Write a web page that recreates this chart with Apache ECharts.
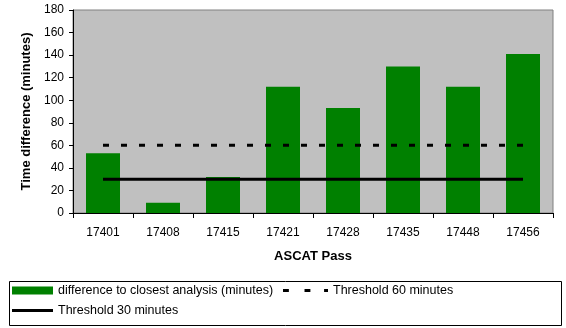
<!DOCTYPE html>
<html>
<head>
<meta charset="utf-8">
<script src="https://cdn.jsdelivr.net/npm/echarts@6/dist/echarts.min.js"></script>
<style>
  html, body { margin: 0; padding: 0; background: #ffffff; }
  #chart { width: 566px; height: 328px; }
</style>
</head>
<body>
<div id="chart"></div>
<script>
// ASCAT passes and their time difference to the closest analysis
const passes = ['17401', '17408', '17415', '17421', '17428', '17435', '17448', '17456'];
const diffMinutes = [53, 9, 32, 112, 93, 130, 112, 141];
const threshold60 = [60, 60, 60, 60, 60, 60, 60, 60];
const threshold30 = [30, 30, 30, 30, 30, 30, 30, 30];
const yTicks = { min: 0, max: 180, step: 20 };

const FONT = 'Arial, "Liberation Sans", sans-serif';
const chart = echarts.init(document.getElementById('chart'), null, { renderer: 'canvas' });

const legendText = { fontFamily: FONT, fontSize: 12.5, color: '#000' };

// legend swatch for the dashed threshold: three short black dashes
const dashedIcon = 'path://M0,0h6v3h-6zM22,0h6v3h-6zM42,0h4v3h-4z';

chart.setOption({
  animation: false,
  backgroundColor: '#ffffff',
  grid: {
    left: 73, right: 13, top: 10, bottom: 115,
    show: true, backgroundColor: '#C0C0C0', borderColor: '#808080', borderWidth: 1
  },
  graphic: [{
    type: 'rect', left: 7, top: 279,
    shape: { width: 552, height: 44 },
    style: { fill: 'none', stroke: '#000', lineWidth: 1 }
  }],
  legend: [
    {
      data: ['difference to closest analysis (minutes)'],
      left: 12, top: 284, padding: 0,
      itemWidth: 41, itemHeight: 8, itemGap: 0,
      icon: 'rect', textStyle: legendText
    },
    {
      data: ['Threshold 60 minutes'],
      left: 283, top: 284, padding: 0,
      itemWidth: 45, itemHeight: 3, itemGap: 0,
      icon: dashedIcon, textStyle: legendText
    },
    {
      data: ['Threshold 30 minutes'],
      left: 12, top: 304, padding: 0,
      itemWidth: 41, itemHeight: 3, itemGap: 0,
      icon: 'rect', textStyle: legendText
    }
  ],
  xAxis: {
    type: 'category',
    data: passes,
    name: 'ASCAT Pass',
    nameLocation: 'middle',
    nameGap: 37,
    nameTextStyle: { fontFamily: FONT, fontSize: 13, fontWeight: 'bold', color: '#000' },
    axisLine: { lineStyle: { color: '#000', width: 1 } },
    axisTick: { show: true, length: 5, lineStyle: { color: '#000' } },
    axisLabel: { fontFamily: FONT, fontSize: 12, color: '#000', margin: 14 }
  },
  yAxis: {
    type: 'value',
    min: yTicks.min, max: yTicks.max, interval: yTicks.step,
    name: 'Time difference (minutes)',
    nameLocation: 'middle',
    nameRotate: 90,
    nameGap: 36,
    nameTextStyle: { fontFamily: FONT, fontSize: 13, fontWeight: 'bold', color: '#000' },
    axisLine: { show: true, lineStyle: { color: '#000', width: 1 } },
    axisTick: { show: true, length: 4, lineStyle: { color: '#000' } },
    axisLabel: { fontFamily: FONT, fontSize: 12, color: '#000', margin: 9 },
    splitLine: { show: false }
  },
  series: [
    {
      name: 'difference to closest analysis (minutes)',
      type: 'bar',
      data: diffMinutes,
      barWidth: 34,
      itemStyle: { color: '#008000' }
    },
    {
      name: 'Threshold 60 minutes',
      type: 'line',
      data: threshold60,
      symbol: 'none',
      itemStyle: { color: '#000' },
      lineStyle: { color: '#000', width: 3, type: [6, 12], cap: 'butt' }
    },
    {
      name: 'Threshold 30 minutes',
      type: 'line',
      data: threshold30,
      symbol: 'none',
      itemStyle: { color: '#000' },
      lineStyle: { color: '#000', width: 3, type: 'solid' }
    }
  ]
});
</script>
</body>
</html>
